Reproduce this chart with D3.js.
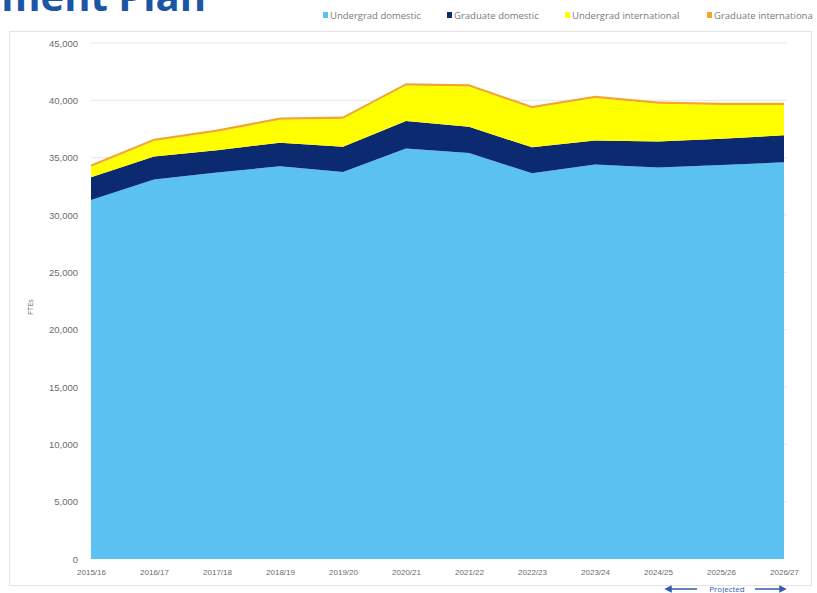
<!DOCTYPE html>
<html>
<head>
<meta charset="utf-8">
<script src="https://cdn.jsdelivr.net/npm/d3@7"></script>
<style>
  body { margin: 0; background: #fff; }
  svg { display: block; font-family: "Open Sans", "Liberation Sans", sans-serif; }
</style>
</head>
<body>
<div class="enrolment-chart"></div>
<script>
// chart values
const years = ['2015/16', '2016/17', '2017/18', '2018/19', '2019/20', '2020/21',
    '2021/22', '2022/23', '2023/24', '2024/25', '2025/26', '2026/27']
const undergradDomestic = [31300, 33100, 33700, 34250, 33750, 35800, 35400, 33650, 34400, 34150, 34350, 34600]
const graduateDomestic = [2000, 2000, 1950, 2050, 2200, 2400, 2300, 2250, 2100, 2250, 2300, 2350]
const undergradInternational = [900, 1350, 1600, 2000, 2450, 3100, 3500, 3400, 3700, 3300, 2950, 2650]
const graduateInternational = [200, 200, 200, 200, 200, 200, 200, 200, 200, 200, 200, 200]
const seriesNames = ['Undergrad domestic', 'Graduate domestic', 'Undergrad international', 'Graduate internationa']
const yTicks = [0, 5000, 10000, 15000, 20000, 25000, 30000, 35000, 40000, 45000]

const colors = ['#5bc1f1', '#0b2a6f', '#ffff00', '#f2a72a']

let dimensions = {
    width: 817,
    height: 593,
    margin: {
        top: 43,
        bottom: 34,
        left: 91,
        right: 33
    }
}

const svg = d3.select('.enrolment-chart')
    .append('svg')
    .attr('width', dimensions.width)
    .attr('height', dimensions.height)

const containerWidth = dimensions.width - dimensions.margin.left - dimensions.margin.right
const containerHeight = dimensions.height - dimensions.margin.top - dimensions.margin.bottom

// Title (cropped at the top of the slide)
svg.append('text')
    .attr('x', 206)
    .attr('y', 11)
    .attr('text-anchor', 'end')
    .attr('font-size', '40px')
    .attr('font-weight', 'bold')
    .attr('fill', '#1b55a6')
    .text('Enrolment Plan')

// chart frame
svg.append('rect')
    .attr('x', 9.5)
    .attr('y', 31.5)
    .attr('width', 802)
    .attr('height', 554)
    .attr('fill', 'none')
    .attr('stroke', '#e4e4e4')

// Legend
const legendX = [323, 447, 565, 707]
const legend = svg.append('g')
seriesNames.forEach((name, i) => {
    legend.append('rect')
        .attr('x', legendX[i])
        .attr('y', 12)
        .attr('width', 5)
        .attr('height', 6)
        .attr('fill', colors[i])
    legend.append('text')
        .attr('x', legendX[i] + 7)
        .attr('y', 18.5)
        .attr('font-size', '9.5px')
        .attr('fill', '#7a7a7a')
        .text(name)
})

const container = svg.append('g')
    .attr('transform', `translate(${dimensions.margin.left},${dimensions.margin.top})`)

const xScale = d3.scalePoint()
    .domain(years)
    .range([0, containerWidth])

const yScale = d3.scaleLinear()
    .domain([0, 45000])
    .range([containerHeight, 0])

// Gridlines
container.append('g')
    .selectAll('line')
    .data(yTicks.filter(d => d > 0))
    .join('line')
    .attr('x1', 0)
    .attr('x2', containerWidth + 3)
    .attr('y1', d => yScale(d))
    .attr('y2', d => yScale(d))
    .attr('stroke', '#e6e6e6')
    .attr('stroke-width', 1)

// Stacked data
const table = years.map((y, i) => ({
    year: y,
    s0: undergradDomestic[i],
    s1: graduateDomestic[i],
    s2: undergradInternational[i],
    s3: graduateInternational[i]
}))

const stack = d3.stack().keys(['s0', 's1', 's2', 's3'])
const stacked = stack(table)

const area = d3.area()
    .x(d => xScale(d.data.year))
    .y0(d => yScale(d[0]))
    .y1(d => yScale(d[1]))

container.selectAll('path.layer')
    .data(stacked)
    .join('path')
    .attr('class', 'layer')
    .attr('d', area)
    .attr('fill', (d, i) => colors[i])

// Y axis
const yAxis = d3.axisLeft(yScale)
    .tickValues(yTicks)
    .tickSize(0)
    .tickPadding(13)
    .tickFormat(d3.format(','))

container.append('g')
    .call(yAxis)
    .call(g => g.select('.domain').remove())
    .selectAll('text')
    .attr('font-size', '9.5px')
    .attr('fill', '#6b6b6b')

container.append('text')
    .attr('x', -containerHeight / 2 - 6)
    .attr('y', -58)
    .attr('font-size', '7.5px')
    .attr('fill', '#6b6b6b')
    .attr('text-anchor', 'middle')
    .attr('transform', 'rotate(-90)')
    .text('FTEs')

// X axis
const xAxis = d3.axisBottom(xScale)
    .tickSize(0)
    .tickPadding(10)

container.append('g')
    .attr('transform', `translate(0, ${containerHeight})`)
    .call(xAxis)
    .call(g => g.select('.domain').remove())
    .selectAll('text')
    .attr('font-size', '8px')
    .attr('fill', '#6b6b6b')

// Projected arrows
const proj = svg.append('g')
    .attr('transform', 'translate(0, 589)')
proj.append('defs').append('marker')
    .attr('id', 'arrowhead')
    .attr('viewBox', '0 0 10 10')
    .attr('refX', 5)
    .attr('refY', 5)
    .attr('markerWidth', 5)
    .attr('markerHeight', 5)
    .attr('orient', 'auto')
    .append('path')
    .attr('d', 'M0,0 L10,5 L0,10 Z')
    .attr('fill', '#2f5db0')
proj.append('line')
    .attr('x1', 697).attr('x2', 668)
    .attr('y1', 0).attr('y2', 0)
    .attr('stroke', '#2f5db0')
    .attr('stroke-width', 1.5)
    .attr('marker-end', 'url(#arrowhead)')
proj.append('line')
    .attr('x1', 755).attr('x2', 783)
    .attr('y1', 0).attr('y2', 0)
    .attr('stroke', '#2f5db0')
    .attr('stroke-width', 1.5)
    .attr('marker-end', 'url(#arrowhead)')
proj.append('text')
    .attr('x', 727)
    .attr('y', 3)
    .attr('text-anchor', 'middle')
    .attr('font-size', '8px')
    .attr('fill', '#2f5db0')
    .text('Projected')
</script>
</body>
</html>
